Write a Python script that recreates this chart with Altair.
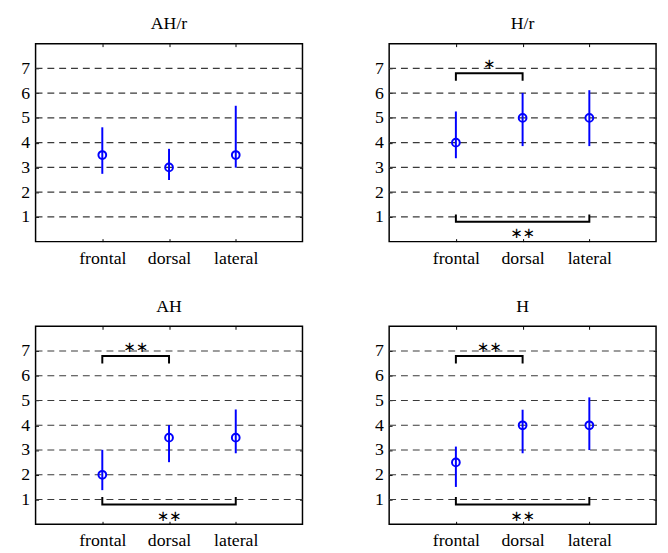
import altair as alt
import pandas as pd

titles = ["AH/r", "H/r", "AH", "H"]
categories = ["frontal", "dorsal", "lateral"]
cat_pos = [1, 2, 3]
grid_values = [1, 2, 3, 4, 5, 6, 7]

means = {
    "AH/r": [3.5, 3.0, 3.5],
    "H/r": [4.0, 5.0, 5.0],
    "AH": [2.0, 3.5, 3.5],
    "H": [2.5, 4.0, 4.0],
}
lows = {
    "AH/r": [2.74, 2.49, 2.99],
    "H/r": [3.37, 3.86, 3.86],
    "AH": [1.38, 2.51, 2.87],
    "H": [1.51, 2.87, 3.0],
}
highs = {
    "AH/r": [4.62, 3.75, 5.49],
    "H/r": [5.26, 6.01, 6.12],
    "AH": [3.01, 4.01, 4.64],
    "H": [3.14, 4.63, 5.13],
}
# significance brackets: (from, to, bar level, leg end, label, label level)
brackets = {
    "AH/r": [],
    "H/r": [(1, 2, 6.8, 6.5, "∗", 7.17), (1, 3, 0.8, 1.1, "∗∗", 0.34)],
    "AH": [(1, 2, 6.8, 6.5, "∗∗", 7.17), (1, 3, 0.8, 1.1, "∗∗", 0.34)],
    "H": [(1, 2, 6.8, 6.5, "∗∗", 7.17), (1, 3, 0.8, 1.1, "∗∗", 0.34)],
}

FONT = "Liberation Serif"
W, H = 271, 201
BLUE = "#0000ff"

xscale = alt.Scale(domain=[0, 4], nice=False, zero=False)
yscale = alt.Scale(domain=[0, 8], nice=False, zero=False)
label_expr = " : ".join(
    f"datum.value == {p} ? '{c}'" for p, c in zip(cat_pos, categories)
) + " : ''"

ax_common = dict(domain=False, grid=False, ticks=True, tickSize=3, offset=-3,
                 tickColor="black", tickWidth=1, title=None, minExtent=0)
x_bottom = alt.Axis(orient="bottom", values=cat_pos, labelExpr=label_expr,
                    labelFont=FONT, labelFontSize=18, labelColor="black",
                    labelPadding=8, **ax_common)
y_left = alt.Axis(orient="left", values=grid_values, labelFont=FONT,
                  labelFontSize=18, labelColor="black", labelPadding=6,
                  **ax_common)
x_top = alt.Axis(orient="top", values=cat_pos, labels=False, maxExtent=0, **ax_common)
y_right = alt.Axis(orient="right", values=grid_values, labels=False, maxExtent=0,
                   **ax_common)


def panel(name):
    df = pd.DataFrame({"pos": cat_pos, "mean": means[name],
                       "low": lows[name], "high": highs[name]})
    gdf = pd.DataFrame({"g": grid_values})

    grid = alt.Chart(gdf).mark_rule(strokeDash=[7, 5], color="#3a3a3a",
                                    strokeWidth=1.1).encode(
        y=alt.Y("g:Q", scale=yscale, axis=y_right)
    )
    err = alt.Chart(df).mark_rule(color=BLUE, strokeWidth=2).encode(
        x=alt.X("pos:Q", scale=xscale, axis=x_top),
        y=alt.Y("low:Q", scale=yscale, axis=None),
        y2="high:Q",
    )
    pts = alt.Chart(df).mark_point(shape="circle", filled=False, color=BLUE,
                                   size=62, strokeWidth=2, opacity=1).encode(
        x=alt.X("pos:Q", scale=xscale, axis=x_bottom),
        y=alt.Y("mean:Q", scale=yscale, axis=y_left),
    )
    layers = [grid, err, pts]

    rows, trows = [], []
    for i, (a, b, lvl, leg, lab, ly) in enumerate(brackets[name]):
        pts_b = [(a, leg), (a, lvl), (b, lvl), (b, leg)]
        for k, (xx, yy) in enumerate(pts_b):
            rows.append({"id": i, "k": k, "x": xx, "y": yy})
        trows.append({"x": (a + b) / 2, "y": ly, "t": lab})
    if rows:
        bdf = pd.DataFrame(rows)
        tdf = pd.DataFrame(trows)
        lines = alt.Chart(bdf).mark_line(color="black", strokeWidth=2,
                                         strokeJoin="miter", strokeCap="butt").encode(
            x=alt.X("x:Q", scale=xscale, axis=None),
            y=alt.Y("y:Q", scale=yscale, axis=None),
            detail="id:N",
            order="k:Q",
        )
        txt = alt.Chart(tdf).mark_text(font="DejaVu Sans", fontSize=15,
                                       baseline="middle", color="black").encode(
            x=alt.X("x:Q", scale=xscale, axis=None),
            y=alt.Y("y:Q", scale=yscale, axis=None),
            text="t:N",
        )
        layers += [lines, txt]

    return alt.layer(*layers).resolve_axis(x="independent", y="independent").properties(
        width=W, height=H,
        title=alt.TitleParams(name, font=FONT, fontSize=18, fontWeight="normal",
                              color="black", offset=-4, baseline="alphabetic"),
    )


row1 = alt.hconcat(panel("AH/r"), panel("H/r"), spacing=70)
row2 = alt.hconcat(panel("AH"), panel("H"), spacing=70)
chart = alt.vconcat(row1, row2, spacing=29).properties(
    padding={"left": 12, "top": 2, "right": 2, "bottom": 2},
    background="white",
).configure_view(stroke="black", strokeWidth=1.5)

chart.save("out.html", embed_options={"renderer": "svg", "actions": False})
